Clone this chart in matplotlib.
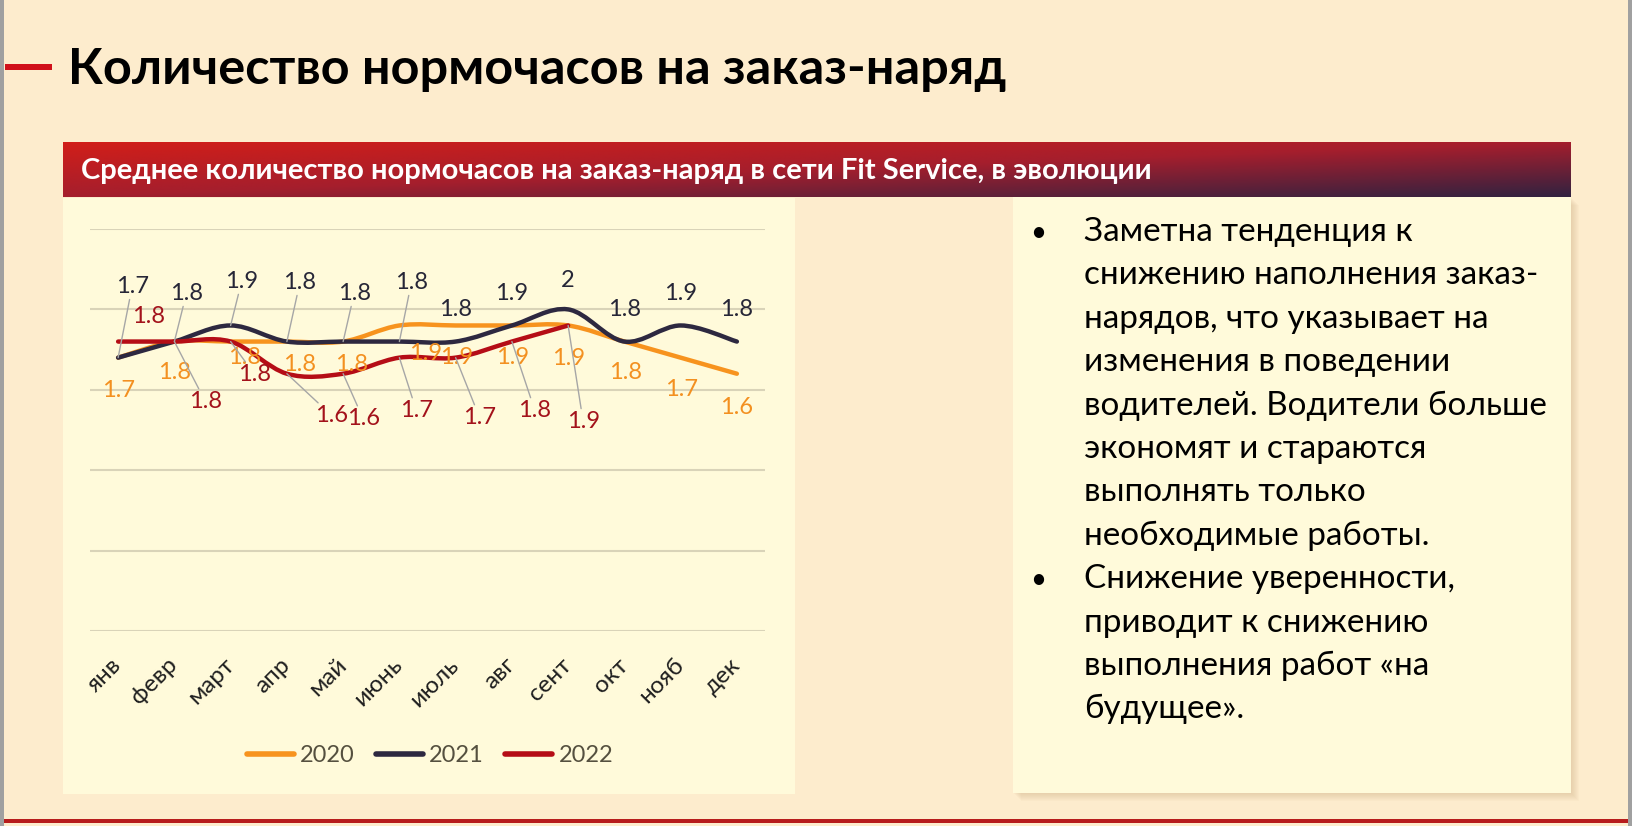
import numpy as np
import matplotlib
matplotlib.use("Agg")
import matplotlib.pyplot as plt
from matplotlib.patches import Rectangle, PathPatch
from matplotlib.path import Path
from matplotlib.lines import Line2D

plt.rcParams['font.family'] = ['Lato', 'DejaVu Sans']

# data
months = ['янв', 'февр', 'март', 'апр', 'май', 'июнь', 'июль', 'авг', 'сент', 'окт', 'нояб', 'дек']
years = ['2020', '2021', '2022']
v2020 = [1.7, 1.8, 1.8, 1.8, 1.8, 1.9, 1.9, 1.9, 1.9, 1.8, 1.7, 1.6]
v2021 = [1.7, 1.8, 1.9, 1.8, 1.8, 1.8, 1.8, 1.9, 2.0, 1.8, 1.9, 1.8]
v2022 = [1.8, 1.8, 1.8, 1.6, 1.6, 1.7, 1.7, 1.8, 1.9]

title = 'Количество нормочасов на заказ-наряд'
subtitle = 'Среднее количество нормочасов на заказ-наряд в сети Fit Service, в эволюции'
bullets = [
    ['Заметна тенденция к', 'снижению наполнения заказ-', 'нарядов, что указывает на',
     'изменения в поведении', 'водителей. Водители больше', 'экономят и стараются',
     'выполнять только', 'необходимые работы.'],
    ['Снижение уверенности,', 'приводит к снижению', 'выполнения работ «на', 'будущее».'],
]

# label offsets in pixels (dx, dy up) and leader flags
off2020 = [(0, -33), (0, -31), (14, -16), (13, -23), (8, -23), (26, -28), (1, -32), (1, -32),
           (0, -33), (1, -31), (1, -32), (0, -34)]
off2021 = [(14, 71), (12, 48), (11, 44), (13, 59), (11, 48), (12, 59), (0, 32), (0, 32),
           (0, 29), (0, 32), (0, 32), (0, 32)]
off2022 = [(30, 25), (31, -60), (24, -33), (45, -42), (20, -45), (17, -53), (24, -60),
           (23, -69), (15, -96)]
lead2020 = [False] * 12
lead2021 = [True] * 6 + [False] * 6
lead2022 = [False] + [True] * 8

col_line = ['#F7931E', '#2D2840', '#B50D16']
col_lab = ['#F39020', '#262637', '#A3121B']

W, H = 1633, 826
BG = '#FDECCD'
PANEL = '#FFFADA'


def fx(x):
    return x / W


def fy(y):
    return 1 - y / H


def rect(x0, y0, x1, y1, z=-5, **kw):
    fig.add_artist(Rectangle((fx(x0), fy(y1)), (x1 - x0) / W, (y1 - y0) / H,
                             transform=fig.transFigure, zorder=z, **kw))


def fit(t, target):
    r = fig.canvas.get_renderer()
    w = t.get_window_extent(r).width
    t.set_fontsize(t.get_fontsize() * target / w)


def smooth_path(xs, ys, k=1.0):
    pts = np.column_stack([xs, ys])
    n = len(pts)
    verts = [pts[0]]
    codes = [Path.MOVETO]
    for i in range(n - 1):
        p0 = pts[max(i - 1, 0)]
        p1 = pts[i]
        p2 = pts[i + 1]
        p3 = pts[min(i + 2, n - 1)]
        c1 = p1 + (p2 - p0) / 6 * k
        c2 = p2 - (p3 - p1) / 6 * k
        verts += [c1, c2, p2]
        codes += [Path.CURVE4] * 3
    return Path(verts, codes)


fig = plt.figure(figsize=(W / 100, H / 100), dpi=100)
fig.patch.set_facecolor(BG)

# slide frame
rect(0, 0, 4, H, fc='#A0A0A0', ec='none')
rect(1628, 0, W, H, fc='#A0A0A0', ec='none')
rect(4, 819, 1628, 823, fc='#B71C1C', ec='none')

# title
rect(5, 64, 52, 70, fc='#D0101A', ec='none')
t = fig.text(fx(68), fy(84), title, fontsize=36, fontweight='bold', color='black', va='baseline')
fit(t, 937)

# chart panel and text box
rect(63, 198, 795, 794, fc=PANEL, ec='none')
for s in range(1, 9):
    rect(1013 + s, 197 + s, 1571 + s, 793 + s, fc='#C9A97A', ec='none', alpha=0.05)
rect(1013, 197, 1571, 793, fc=PANEL, ec='none')

# gradient header band
band = fig.add_axes([fx(63), fy(197), (1571 - 63) / W, (197 - 142) / H])
u = np.linspace(0, 1, 300)[None, :]
v = np.linspace(0, 1, 40)[:, None]
tt = (u + v) / 2
stops = np.array([[210, 30, 25], [165, 30, 45], [50, 34, 64]]) / 255
img = np.zeros(tt.shape + (3,))
for c in range(3):
    img[..., c] = np.interp(tt, [0, 0.5, 1], stops[:, c])
band.imshow(img, aspect='auto', extent=[0, 1, 0, 1], origin='upper')
band.set_axis_off()
st = fig.text(fx(81), fy(171), subtitle, fontsize=18, fontweight='bold', color='white', va='center')
fit(st, 1072)

# chart
ax = fig.add_axes([fx(90), fy(631), (765 - 90) / W, (631 - 229) / H])
ax.set_facecolor('none')
ax.set_xlim(-0.5, 11.5)
ax.set_ylim(0, 2.5)
ax.set_yticks(np.arange(0, 2.51, 0.5))
ax.yaxis.grid(True, color='#D9D3B8', lw=1.5)
ax.set_axisbelow(True)
ax.tick_params(axis='y', left=False, labelleft=False)
ax.set_xticks(range(12))
ax.set_xticklabels(months, rotation=45, ha='right', va='center', rotation_mode='anchor',
                   fontsize=17.5, color='#1F1F1F')
ax.tick_params(axis='x', length=0, pad=22)
for sp in ax.spines.values():
    sp.set_visible(False)

series = [v2020, v2021, v2022]
offs = [off2020, off2021, off2022]
leads = [lead2020, lead2021, lead2022]
for k, vals in enumerate(series):
    xs = np.arange(len(vals))
    ax.add_patch(PathPatch(smooth_path(xs, vals), fill=False, ec=col_line[k], lw=3.2,
                           capstyle='round', joinstyle='round', zorder=2 + k))
for k, vals in enumerate(series):
    for i, val in enumerate(vals):
        dx, dy = offs[k][i]
        ap = None
        if leads[k][i]:
            ap = dict(arrowstyle='-', color='#A6A6A6', lw=1, shrinkA=0, shrinkB=0)
        ax.annotate(f'{val:g}', xy=(i, val), xytext=(dx, dy), textcoords='offset pixels',
                    ha='center', va='center', fontsize=17, color=col_lab[k],
                    bbox=dict(boxstyle='square,pad=0.1', fc='none', ec='none'),
                    arrowprops=ap, zorder=10, annotation_clip=False)

handles = [Line2D([], [], color=col_line[k], lw=4, solid_capstyle='round') for k in range(3)]
ax.legend(handles, years, loc='center', bbox_to_anchor=(fx(430), fy(756)),
          bbox_transform=fig.transFigure, ncol=3, frameon=False, fontsize=17,
          handlelength=2.0, handletextpad=0.25, columnspacing=0.9, labelcolor='#55503F')

# bullet text
line = 0
body = []
for para in bullets:
    for j, s in enumerate(para):
        yb = 241 + 43.4 * line
        if j == 0:
            fig.text(fx(1038), fy(yb), '•', fontsize=20, color='black', va='baseline', ha='center')
        body.append(fig.text(fx(1084), fy(yb), s, fontsize=22, color='black', va='baseline'))
        line += 1
r = fig.canvas.get_renderer()
scale = 453 / body[1].get_window_extent(r).width
for tx in body:
    tx.set_fontsize(tx.get_fontsize() * scale)

fig.savefig('out.png', dpi=100, facecolor=fig.get_facecolor())
